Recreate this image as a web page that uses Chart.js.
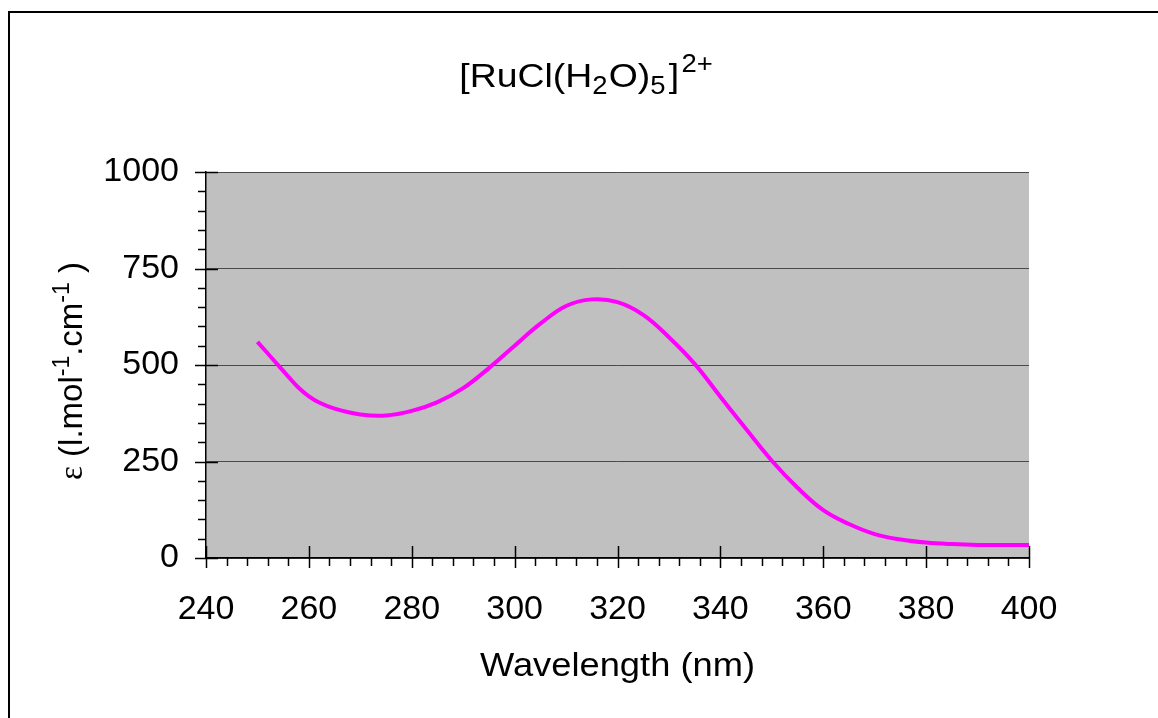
<!DOCTYPE html>
<html>
<head>
<meta charset="utf-8">
<script src="https://cdn.jsdelivr.net/npm/chart.js@4.4.1/dist/chart.umd.min.js"></script>
<style>
  html, body { margin: 0; padding: 0; background: #fff; }
  #wrap { position: relative; width: 1158px; height: 718px; overflow: hidden; }
  #frame { position: absolute; left: 8px; top: 11px; width: 1200px; height: 760px;
           border-left: 2px solid #000; border-top: 2px solid #000; }
  canvas { position: absolute; left: 0; top: 0; }
</style>
</head>
<body>
<div id="wrap">
  <div id="frame"></div>
  <canvas id="spectrum" width="1158" height="718"></canvas>
</div>
<script>
// spectrum
const wavelengths = [250, 253, 256, 258, 260, 262, 265, 270, 275, 280, 285, 290, 295, 300, 305, 310, 315,
                     320, 325, 330, 335, 340, 345, 350, 355, 360, 365, 370, 375, 380, 385, 390, 395, 400];
const epsilon     = [560, 515, 470, 441, 419, 403, 387, 372, 369, 381, 404, 440, 492, 550, 607, 653, 670,
                     663, 630, 572, 503, 418, 334, 252, 182, 124, 88, 62, 48, 40, 36, 34, 34, 34];
const xTicks = [240, 260, 280, 300, 320, 340, 360, 380, 400];
const yTicks = [0, 250, 500, 750, 1000];

const FONT = "'Liberation Sans', Arial, sans-serif";
const STRETCH = 1.1; // text in the picture is a little wider than normal

// draws text made of pieces (normal / sub / sup)
function richWidth(ctx, parts) {
  let w = 0;
  parts.forEach(p => {
    ctx.font = p.size + "px " + (p.family || FONT);
    w += ctx.measureText(p.t).width + (p.gap || 0);
  });
  return w;
}
function drawRich(ctx, parts, x, y) {
  parts.forEach(p => {
    ctx.font = p.size + "px " + (p.family || FONT);
    ctx.fillText(p.t, x, y + (p.dy || 0));
    x += ctx.measureText(p.t).width + (p.gap || 0);
  });
}

const titleParts = [
  { t: "[RuCl(H", size: 34 },
  { t: "2", size: 25, dy: 7, gap: 1 },
  { t: "O)", size: 34 },
  { t: "5", size: 25, dy: 7, gap: 3 },
  { t: "]", size: 34, gap: 2 },
  { t: "2+", size: 25, dy: -15 }
];
const yTitleParts = [
  { t: "ε", size: 33, family: "'Liberation Serif', serif" },
  { t: " (l.mol", size: 33 },
  { t: "-1", size: 23, dy: -13 },
  { t: ".cm", size: 33 },
  { t: "-1", size: 23, dy: -13 },
  { t: " )", size: 33 }
];

const decor = {
  id: 'decor',
  beforeDraw(chart) {
    const { ctx, chartArea: a } = chart;
    ctx.save();
    ctx.fillStyle = '#c0c0c0';
    ctx.fillRect(a.left, a.top, a.right - a.left, a.bottom - a.top);
    ctx.restore();
  },
  afterDraw(chart) {
    const { ctx, chartArea: a, scales } = chart;
    const x = scales.x, y = scales.y;
    ctx.save();
    ctx.strokeStyle = '#000';
    ctx.lineWidth = 1.5;
    ctx.beginPath();
    for (let v = 0; v <= 1000; v += 50) {
      const py = Math.round(y.getPixelForValue(v)) + 0.5;
      if (v % 250 === 0) { ctx.moveTo(a.left - 11, py); ctx.lineTo(a.left + 12, py); }
      else { ctx.moveTo(a.left - 8, py); ctx.lineTo(a.left, py); }
    }
    for (let v = 240; v <= 400; v += 4) {
      const px = Math.round(x.getPixelForValue(v)) + 0.5;
      if ((v - 240) % 20 === 0) { ctx.moveTo(px, a.bottom - 12); ctx.lineTo(px, a.bottom + 10); }
      else { ctx.moveTo(px, a.bottom); ctx.lineTo(px, a.bottom + 8); }
    }
    ctx.stroke();

    ctx.fillStyle = '#000';
    ctx.textBaseline = 'alphabetic';
    // chart title
    const tw = richWidth(ctx, titleParts) * STRETCH;
    ctx.save();
    ctx.translate(586 - tw / 2, 87);
    ctx.scale(STRETCH, 1);
    drawRich(ctx, titleParts, 0, 0);
    ctx.restore();
    // x axis title
    ctx.save();
    ctx.translate((a.left + a.right) / 2, 676);
    ctx.scale(STRETCH, 1);
    ctx.font = "33px " + FONT;
    ctx.textAlign = 'center';
    ctx.fillText('Wavelength (nm)', 0, 0);
    ctx.restore();
    // y axis title, rotated
    const yw = richWidth(ctx, yTitleParts);
    ctx.translate(82, 371);
    ctx.rotate(-Math.PI / 2);
    drawRich(ctx, yTitleParts, -yw / 2, 0);
    ctx.restore();
  }
};

new Chart(document.getElementById('spectrum'), {
  type: 'line',
  data: {
    datasets: [{
      label: 'ε',
      data: wavelengths.map((w, i) => ({ x: w, y: epsilon[i] })),
      borderColor: '#ff00ff',
      borderWidth: 4,
      pointRadius: 0,
      tension: 0.4,
      fill: false
    }]
  },
  options: {
    responsive: false,
    animation: false,
    layout: { padding: { top: 172, right: 129, left: 0, bottom: 0 } },
    plugins: { legend: { display: false }, title: { display: false }, tooltip: { enabled: false } },
    scales: {
      x: {
        type: 'linear',
        min: 240, max: 400,
        afterBuildTicks: s => { s.ticks = xTicks.map(v => ({ value: v })); },
        afterFit: s => { s.height = 160; },
        grid: { display: false, drawTicks: false },
        border: { display: true, color: '#000', width: 1.5 },
        ticks: { color: '#000', font: { family: FONT, size: 34 }, padding: 31, maxRotation: 0,
                 callback: v => String(v) }
      },
      y: {
        min: 0, max: 1000,
        afterBuildTicks: s => { s.ticks = yTicks.map(v => ({ value: v })); },
        afterFit: s => { s.width = 206; },
        grid: { color: '#4a4a4a', lineWidth: 1, drawTicks: false },
        border: { display: true, color: '#000', width: 1.5 },
        ticks: { color: '#000', font: { family: FONT, size: 34 }, padding: 27,
                 callback: v => String(v) }
      }
    }
  },
  plugins: [decor]
});
</script>
</body>
</html>
